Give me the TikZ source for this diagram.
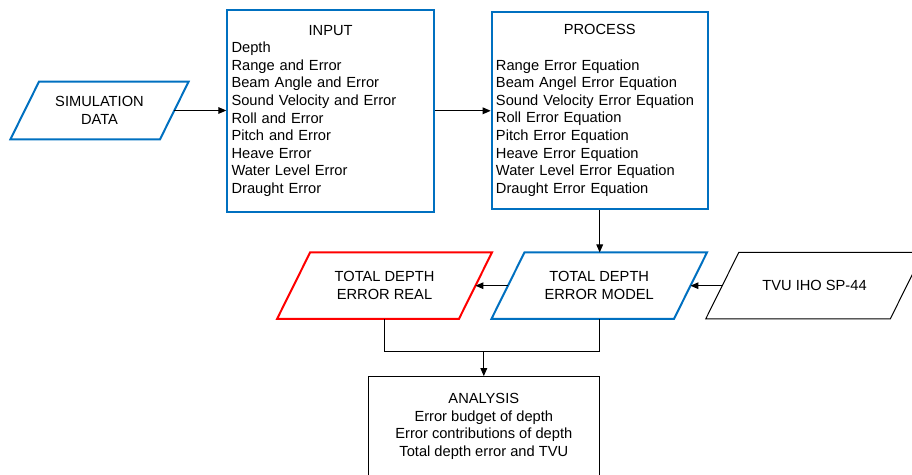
\documentclass[tikz,border=0pt]{standalone}
\usepackage{xcolor}
\usepackage{fontspec}
\setmainfont{Liberation Sans}
\usetikzlibrary{arrows.meta}

\definecolor{blueline}{HTML}{0070C0}
\definecolor{redline}{HTML}{FF0000}

% parallelogram round a node: #1 draw options, #2 node name, #3 half of the slant
\newcommand{\slantbox}[3]{%
	\draw[#1] ([xshift=-#3]#2.south west) -- ([xshift=-#3]#2.south east)
		-- ([xshift=#3]#2.north east) -- ([xshift=#3]#2.north west) -- cycle;}

\begin{document}
\begin{tikzpicture}[x=0.75pt,y=-0.75pt,
		every node/.style={font=\fontsize{11}{13.2}\selectfont},
		listbox/.style={rectangle, draw=blueline, line width=1.5pt, align=left, inner xsep=3.2pt},
		databox/.style={rectangle, minimum height=49.5pt, align=center, inner sep=0pt},
		flow/.style={-{Triangle[length=6pt,width=5pt]}, line width=0.75pt}]
			\useasboundingbox (0,0) rectangle (912,474);
			\node[databox, minimum width=111.8pt, minimum height=42.75pt] (sim) at (99.5,110.5) {SIMULATION\\DATA};
			\slantbox{blueline, line width=1.5pt}{sim}{10.7pt}
			\node[listbox, text width=148.6pt, minimum height=151.5pt] (input) at (330.6,110.8) {\centering INPUT\par\raggedright
				Depth\\
				Range and Error\\
				Beam Angle and Error\\
				Sound Velocity and Error\\
				Roll and Error\\
				Pitch and Error\\
				Heave Error\\
				Water Level Error\\
				Draught Error};
			\node[listbox, text width=155.6pt, minimum height=148.2pt] (process) at (599.7,110.5) {\centering PROCESS\par\raggedright\vspace{13.2pt}
				Range Error Equation\\
				Beam Angel Error Equation\\
				Sound Velocity Error Equation\\
				Roll Error Equation\\
				Pitch Error Equation\\
				Heave Error Equation\\
				Water Level Error Equation\\
				Draught Error Equation};
			\node[databox, minimum width=136pt] (real) at (384.5,285.7) {TOTAL DEPTH\\ERROR REAL};
			\slantbox{redline, line width=1.5pt}{real}{12.4pt}
			\node[databox, minimum width=136.5pt] (model) at (599.2,285.7) {TOTAL DEPTH\\ERROR MODEL};
			\slantbox{blueline, line width=1.5pt}{model}{12.4pt}
			\node[databox, minimum width=138pt] (tvu) at (814.5,285.7) {TVU IHO SP-44};
			\slantbox{line width=0.75pt}{tvu}{12.4pt}
			\node[draw, line width=0.75pt, minimum width=173.2pt, minimum height=74.5pt, align=center] (analysis) at (483.8,426.3) {ANALYSIS\\
				Error budget of depth\\
				Error contributions of depth\\
				Total depth error and TVU};
			\coordinate (join) at (483.8,351.7);
			\draw[flow] (sim.east) -- (sim.east -| input.west);
			\draw[flow] (input.east) -- (input.east -| process.west);
			\draw[flow] (process.south) -- (process.south |- model.north);
			\draw[flow] (model.west) -- (real.east);
			\draw[flow] (tvu.west) -- (model.east);
			\draw[line width=0.75pt] (real.south) |- (join) -| (model.south);
			\draw[flow] (join) -- (analysis.north);
		\end{tikzpicture}
\end{document}
